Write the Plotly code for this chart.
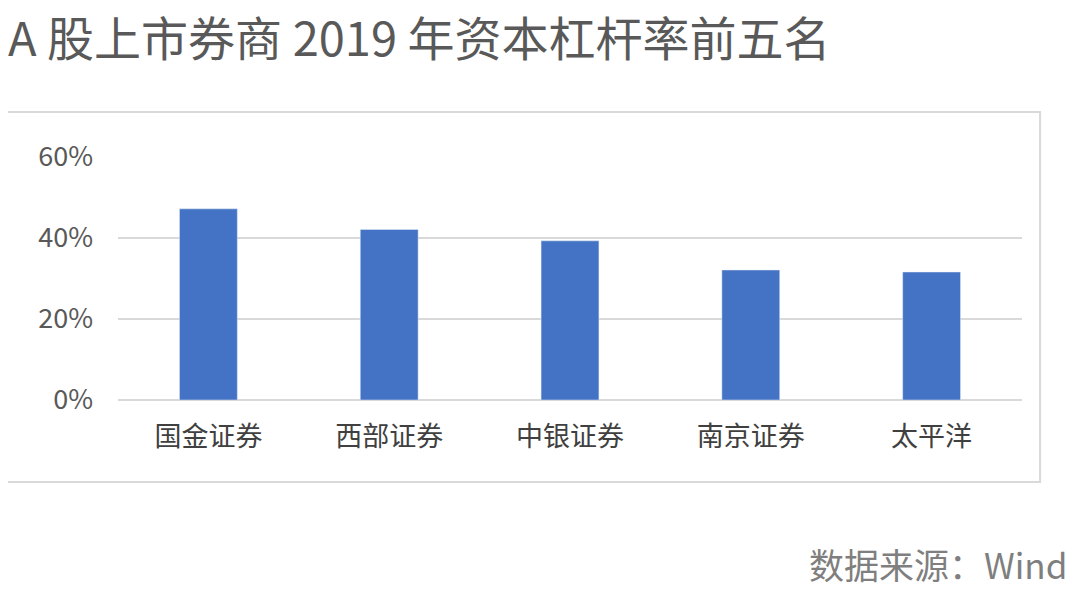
import plotly.graph_objects as go

brokers = ["国金证券", "西部证券", "中银证券", "南京证券", "太平洋"]
leverage = [0.472, 0.421, 0.393, 0.321, 0.316]
y_ticks = [0, 0.2, 0.4, 0.6]
y_labels = ["0%", "20%", "40%", "60%"]

font = "Noto Sans CJK SC"

fig = go.Figure()
fig.add_trace(go.Bar(x=brokers, y=leverage, marker_color="#4472C4", width=0.32))

# page body adds 8px margin, so the figure is sized to fit inside it
fig.update_layout(
    width=1064, height=580,
    margin=dict(l=110, r=50, t=149, b=188),
    plot_bgcolor="white", paper_bgcolor="white",
    font=dict(family=font, color="#595959"),
    showlegend=False,
    xaxis=dict(tickfont=dict(size=27, color="#404040"), showline=False, ticks="",
               ticklabelstandoff=18),
    yaxis=dict(range=[0, 0.6], tickvals=y_ticks, ticktext=y_labels,
               tickfont=dict(size=27, color="#595959"), gridcolor="#d9d9d9",
               gridwidth=2, zeroline=True, zerolinecolor="#d9d9d9", zerolinewidth=2,
               ticklabelstandoff=24),
)

# chart frame
fig.add_shape(type="rect", xref="paper", yref="paper",
              x0=-0.123, x1=1.02, y0=-0.337, y1=1.185,
              line=dict(color="#d9d9d9", width=2))

fig.add_annotation(text="A 股上市券商 2019 年资本杠杆率前五名", xref="paper", yref="paper",
                   x=-0.124, y=1.50, xanchor="left", yanchor="middle", showarrow=False,
                   font=dict(size=47, color="#595959", family=font))
fig.add_annotation(text="数据来源：Wind", xref="paper", yref="paper",
                   x=1.052, y=-0.671, xanchor="right", yanchor="middle", showarrow=False,
                   font=dict(size=35, color="#7f7f7f", family=font))

fig.write_html("out.html")
